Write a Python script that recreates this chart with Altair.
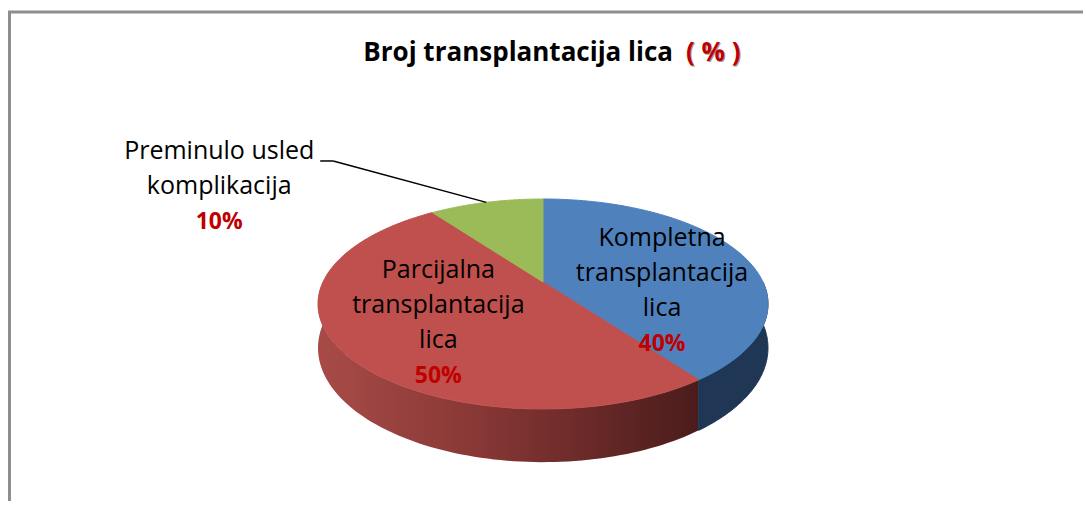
import altair as alt
import pandas as pd

# ---- data ----
categories = ["Kompletna transplantacija lica",
              "Parcijalna transplantacija lica",
              "Preminulo usled komplikacija"]
label_lines = ["Kompletna\ntransplantacija\nlica",
               "Parcijalna\ntransplantacija\nlica",
               "Preminulo usled\nkomplikacija"]
values = [40, 50, 10]
placement = ["inside", "inside", "outside"]
title_main = "Broj transplantacija lica"
title_unit = "( % )"

# ---- styles ----
top_colors = ["#4F81BD", "#C0504D", "#9BBB59"]
blue_side = "#1F3654"
red_side = alt.Gradient(
    gradient="linear", x1=0, x2=1, y1=0, y2=0,
    stops=[alt.GradientStop(offset=0, color="#A84B48"),
           alt.GradientStop(offset=0.45, color="#853634"),
           alt.GradientStop(offset=1, color="#4A1C1B")])
FONT = "Open Sans"
LH = 35

# ---- layout of the 3D pie (page pixels) ----
CX, CY = 543, 282        # projected centre of the top face
A, B = 220, 100.4        # radii of the projected disc
K = 0.2095               # perspective factor
D = 42                   # thickness
W, H = 1075, 493

df = pd.DataFrame({"cat": categories, "label": label_lines, "value": values,
                   "placement": placement, "idx": list(range(len(values)))})

xs = alt.Scale(domain=[8, 8 + W], nice=False, zero=False)
ys = alt.Scale(domain=[8, 8 + H], reverse=True, nice=False, zero=False)

base = (alt.Chart(df)
        .transform_window(cum="sum(value)", sort=[alt.SortField("idx")], frame=[None, 0])
        .transform_joinaggregate(total="sum(value)")
        .transform_calculate(a0="(datum.cum - datum.value) / datum.total * 360",
                             a1="datum.cum / datum.total * 360"))


def proj_x(X, Z):
    return f"({CX} + {A} * ({X}) / (1 + {K} * ({Z})))"


def proj_y(Z, dep="0"):
    return f"({CY} + ({dep} - {B} * ({Z})) / (1 + {K} * ({Z})))"


# ---- side walls ----
M = 90
side = (base
        .transform_calculate(s0="max(datum.a0, 90)", s1="min(datum.a1, 270)")
        .transform_filter("datum.s0 < datum.s1")
        .transform_calculate(t=f"sequence(0, {2 * M + 2})")
        .transform_flatten(["t"])
        .transform_calculate(u=f"datum.t > {M} ? {2 * M + 1} - datum.t : datum.t",
                             dep=f"datum.t > {M} ? {D} : 0")
        .transform_calculate(phi=f"(datum.s0 + (datum.s1 - datum.s0) * datum.u / {M}) * PI / 180")
        .transform_calculate(X="sin(datum.phi)", Z="cos(datum.phi)")
        .transform_calculate(px=proj_x("datum.X", "datum.Z"),
                             py=proj_y("datum.Z", "datum.dep")))
side_enc = dict(x=alt.X("px:Q", scale=xs, axis=None),
                y=alt.Y("py:Q", scale=ys, axis=None),
                order=alt.Order("t:Q"))
side_blue = (side.transform_filter("datum.idx == 0")
             .mark_line(fill=blue_side, stroke=blue_side, strokeWidth=1)
             .encode(**side_enc))
side_red = (side.transform_filter("datum.idx == 1")
            .mark_line(fill=red_side, strokeWidth=0, strokeOpacity=0)
            .encode(**side_enc))

# ---- top face ----
N = 90
top = (base
       .transform_calculate(t=f"sequence(-1, {N + 2})")
       .transform_flatten(["t"])
       .transform_calculate(
           phi=f"(datum.a0 + (datum.a1 - datum.a0) * clamp(datum.t, 0, {N}) / {N}) * PI / 180",
           c=f"(datum.t < 0 || datum.t > {N}) ? 1 : 0")
       .transform_calculate(X="datum.c ? 0 : sin(datum.phi)",
                            Z="datum.c ? 0 : cos(datum.phi)")
       .transform_calculate(px=proj_x("datum.X", "datum.Z"),
                            py=proj_y("datum.Z"))
       .mark_line(strokeWidth=1)
       .encode(x=alt.X("px:Q", scale=xs, axis=None),
               y=alt.Y("py:Q", scale=ys, axis=None),
               order=alt.Order("t:Q"),
               fill=alt.Fill("cat:N", scale=alt.Scale(domain=categories, range=top_colors), legend=None),
               stroke=alt.Stroke("cat:N", scale=alt.Scale(domain=categories, range=top_colors), legend=None)))

# ---- labels ----
lab = (base
       .transform_calculate(mid="(datum.a0 + datum.a1) / 2 * PI / 180")
       .transform_calculate(X="sin(datum.mid)", Z="cos(datum.mid)")
       .transform_calculate(rx=f"datum.X / (1 + {K} * datum.Z)",
                            rz=f"datum.Z / (1 + {K} * datum.Z)")
       .transform_calculate(
           lx=f"datum.placement == 'inside' ? {CX} + 9 + {A} * 0.56 * datum.rx : {CX} + {A} * 3.93 * datum.rx",
           ly=f"datum.placement == 'inside' ? {CY} + 17.7 - {B} * 0.332 * datum.rz : {CY} - {B} * 1.52 * datum.rz",
           ex=f"{CX} + {A} * datum.rx",
           ey=f"{CY} - {B} * datum.rz",
           nl="length(split(datum.label, '\\n'))",
           pct="format(datum.value / datum.total, '.0%')")
       .transform_calculate(
           tx="datum.placement == 'inside' ? datum.lx : datum.lx - 101",
           ty="datum.placement == 'inside' ? datum.ly : datum.ly + 25.5",
           kx="datum.lx + 13")
       .transform_calculate(ny=f"datum.ty - datum.nl * {LH} / 2",
                            pyy=f"datum.ty + datum.nl * {LH} / 2 + 1"))

names = lab.mark_text(font=FONT, fontSize=25, color="#000000", align="center",
                      baseline="middle", lineBreak="\n", lineHeight=LH).encode(
    x=alt.X("tx:Q", scale=xs, axis=None), y=alt.Y("ny:Q", scale=ys, axis=None), text="label:N")
pcts = lab.mark_text(font=FONT, fontSize=23, fontWeight="bold", color="#C00000",
                     align="center", baseline="middle").encode(
    x=alt.X("tx:Q", scale=xs, axis=None), y=alt.Y("pyy:Q", scale=ys, axis=None), text="pct:N")

outside = lab.transform_filter("datum.placement == 'outside'")
lead1 = outside.mark_rule(color="#000000", strokeWidth=1.5).encode(
    x=alt.X("lx:Q", scale=xs, axis=None), x2="kx:Q",
    y=alt.Y("ly:Q", scale=ys, axis=None), y2="ly:Q")
lead2 = outside.mark_rule(color="#000000", strokeWidth=1.5).encode(
    x=alt.X("kx:Q", scale=xs, axis=None), x2="ex:Q",
    y=alt.Y("ly:Q", scale=ys, axis=None), y2="ey:Q")

# ---- title ----
tdf = pd.DataFrame({"main": [title_main], "unit": [title_unit]})
tmain = alt.Chart(tdf).mark_text(font=FONT, fontSize=26, fontWeight="bold", color="#000000",
                                 align="right", baseline="middle").encode(
    x=alt.value(665), y=alt.value(45), text="main:N")
tunit_sh = alt.Chart(tdf).mark_text(font=FONT, fontSize=26, fontWeight="bold", color="#A0A0A0",
                                    align="left", baseline="middle").encode(
    x=alt.value(679), y=alt.value(46), text="unit:N")
tunit = alt.Chart(tdf).mark_text(font=FONT, fontSize=26, fontWeight="bold", color="#C00000",
                                 align="left", baseline="middle").encode(
    x=alt.value(678), y=alt.value(45), text="unit:N")

# ---- frame ----
frame_top = alt.Chart(tdf).mark_rule(color="#8E8E8E", strokeWidth=3).encode(
    x=alt.value(0), x2=alt.value(W), y=alt.value(4), y2=alt.value(4))
frame_left = alt.Chart(tdf).mark_rule(color="#8E8E8E", strokeWidth=3).encode(
    x=alt.value(1.5), x2=alt.value(1.5), y=alt.value(3), y2=alt.value(H))

chart = (alt.layer(frame_top, frame_left, side_red, side_blue, top, lead1, lead2,
                   names, pcts, tmain, tunit_sh, tunit)
         .properties(width=W, height=H, padding=0,
                     autosize=alt.AutoSizeParams(type="none"), background="#FFFFFF")
         .configure_view(stroke=None))

chart.save("out.html", embed_options={"renderer": "svg", "actions": False})
